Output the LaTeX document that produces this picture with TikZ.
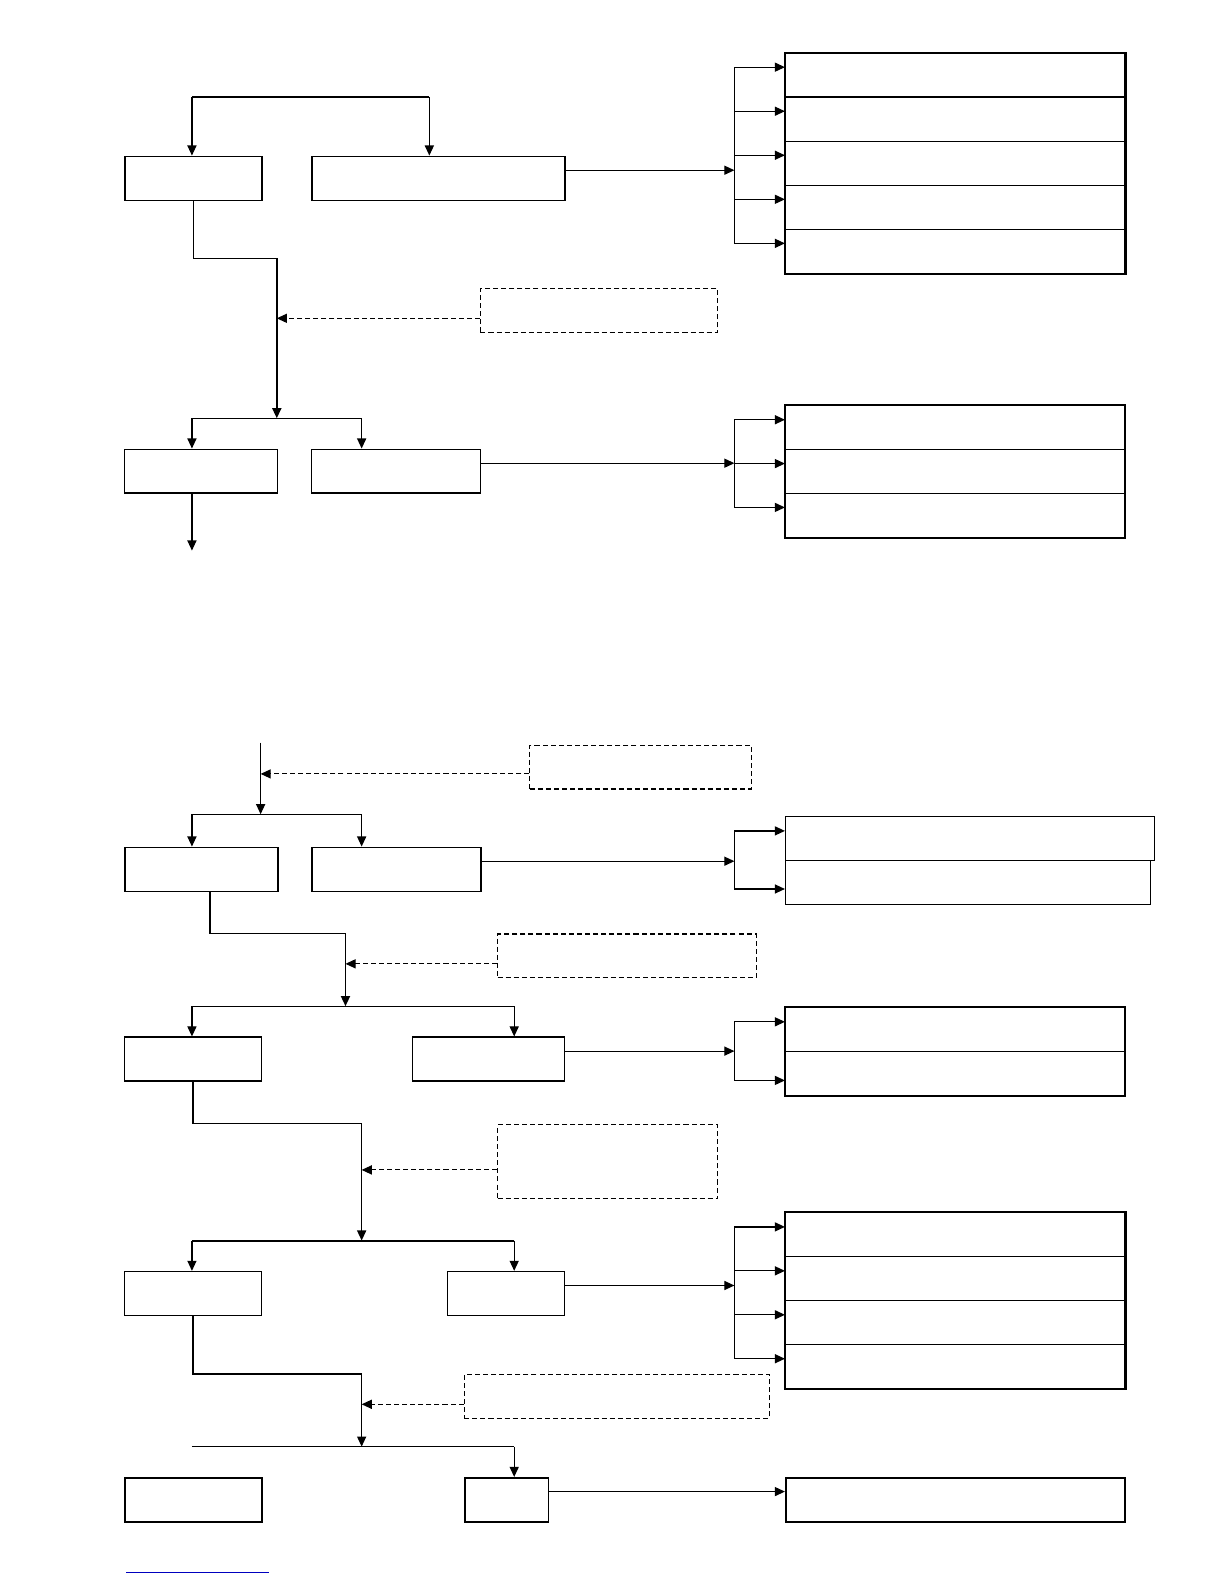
\documentclass[tikz,border=0pt]{standalone}
\usetikzlibrary{arrows.meta,calc}
\begin{document}
\begin{tikzpicture}[x=1pt, y=-1pt]
        \tikzstyle{unit}=[draw, rectangle, anchor=north west, inner sep=0pt, minimum height=43.5pt, line width=1.9pt];
        \tikzstyle{slim}=[unit, line width=1.2pt];
        \tikzstyle{cell}=[draw, rectangle, anchor=north west, inner sep=0pt, minimum height=43.5pt, minimum width=336pt, line width=1.2pt];
        \tikzstyle{note}=[draw, rectangle, anchor=north west, inner sep=0pt, minimum height=43.5pt, line width=1.1pt, dash pattern=on 5pt off 3pt];
        \tikzstyle{link}=[line width=1.2pt];
        \tikzstyle{arr}=[link, -{Triangle[length=10pt, width=9pt]}];
        \tikzstyle{darr}=[arr, line width=1.1pt, dash pattern=on 5pt off 3pt];

        \useasboundingbox (0,0) rectangle (1212,1568);

        % upper part
        \node[unit, minimum width=135pt] (a1) at (123,154) {};
        \node[unit, minimum width=250pt] (b1) at (308,154) {};
        \coordinate (t1l) at (190,96);
        \coordinate (t1r) at (425,96);
        \draw[link] (t1l) -- (t1r);
        \draw[arr] (t1l) -- (t1l |- a1.north);
        \draw[arr] (t1r) -- (t1r |- b1.north);

        \foreach \i in {1,...,5}
            \node[cell] (s1r\i) at (777, {52+43.6*(\i-1)}) {};
        \draw[line width=1.9pt] (s1r1.north west) rectangle (s1r5.south east);
        \coordinate (bus1) at (727,0);
        \coordinate (o1) at ($(b1.north east)+(0,14.5)$);
        \draw[arr] (o1) -- (o1 -| bus1);
        \foreach \i in {1,...,5}
            \coordinate (p1r\i) at ($(s1r\i.north west)+(0,14.5)$);
        \draw[link] (p1r1 -| bus1) -- (p1r5 -| bus1);
        \foreach \i in {1,...,5}
            \draw[arr] (p1r\i -| bus1) -- (p1r\i);

        \coordinate (k1) at (274,256);
        \coordinate (m1) at (274,414);
        \draw[arr, line width=1.5pt] (a1.south) |- (k1) -- (m1);
        \node[note, minimum width=235pt] (d1) at (475,285) {};
        \coordinate (q1) at ($(d1.south west)+(0,-14.5)$);
        \draw[darr] (q1) -- (q1 -| k1);

        \coordinate (j2l) at (190,414);
        \coordinate (j2r) at (358,414);
        \draw[link] (j2l) -- (j2r);
        \node[slim, minimum width=151pt] (a2) at (123,444) {};
        \node[slim, minimum width=167pt] (b2) at (308,444) {};
        \draw[arr] (j2l) -- (j2l |- a2.north);
        \draw[arr] (j2r) -- (j2r |- b2.north);

        \foreach \i in {1,...,3}
            \node[cell] (s2r\i) at (777, {401+43.4*(\i-1)}) {};
        \draw[line width=1.6pt] (s2r1.north west) rectangle (s2r3.south east);
        \coordinate (bus2) at (727,0);
        \coordinate (o2) at ($(b2.north east)+(0,14.5)$);
        \draw[arr] (o2) -- (o2 -| bus2);
        \foreach \i in {1,...,3}
            \coordinate (p2r\i) at ($(s2r\i.north west)+(0,14.5)$);
        \draw[link] (p2r1 -| bus2) -- (p2r3 -| bus2);
        \foreach \i in {1,...,3}
            \draw[arr] (p2r\i -| bus2) -- (p2r\i);

        \coordinate (e2) at (190,545);
        \draw[arr] (a2.south -| e2) -- (e2);

        % lower part
        \coordinate (s3) at (258,735);
        \coordinate (j3) at (258,806);
        \draw[arr] (s3) -- (j3);
        \node[note, minimum width=219pt] (d2) at (524,737) {};
        \coordinate (q2) at ($(d2.south west)+(0,-15.5)$);
        \draw[darr] (q2) -- (q2 -| j3);

        \coordinate (j3l) at (190,806);
        \coordinate (j3r) at (358,806);
        \draw[link] (j3l) -- (j3r);
        \node[unit, minimum width=151pt] (a3) at (123,838) {};
        \node[unit, minimum width=167pt] (b3) at (308,838) {};
        \draw[arr] (j3l) -- (j3l |- a3.north);
        \draw[arr] (j3r) -- (j3r |- b3.north);

        \node[cell, minimum width=365pt] (s3r1) at (777,808) {};
        \node[cell, minimum width=361pt] (s3r2) at (777,851) {};
        \coordinate (bus3) at (727,0);
        \coordinate (o3) at ($(b3.north east)+(0,14.5)$);
        \draw[arr] (o3) -- (o3 -| bus3);
        \coordinate (p3r1) at ($(s3r1.north west)+(0,14.5)$);
        \coordinate (p3r2) at ($(s3r2.north west)+(0,29)$);
        \draw[link] (p3r1 -| bus3) -- (p3r2 -| bus3);
        \foreach \i in {1,2}
            \draw[arr] (p3r\i -| bus3) -- (p3r\i);

        \coordinate (k3) at (342,924);
        \coordinate (m3) at (342,996);
        \draw[arr, line width=1.5pt] ([xshift=8.5pt]a3.south) |- (k3) -- (m3);
        \node[note, minimum width=256pt] (d3) at (492,924) {};
        \coordinate (q3) at ($(d3.south west)+(0,-14.5)$);
        \draw[darr] (q3) -- (q3 -| k3);

        \coordinate (j4l) at (190,996);
        \coordinate (j4r) at (509,996);
        \draw[link] (j4l) -- (j4r);
        \node[slim, minimum width=135pt] (a4) at (123,1026) {};
        \node[slim, minimum width=150pt] (b4) at (408,1026) {};
        \draw[arr] (j4l) -- (j4l |- a4.north);
        \draw[arr] (j4r) -- (j4r |- b4.north);

        \foreach \i in {1,2}
            \node[cell] (s4r\i) at (777, {997+43.5*(\i-1)}) {};
        \draw[line width=1.6pt] (s4r1.north west) rectangle (s4r2.south east);
        \coordinate (bus4) at (727,0);
        \coordinate (o4) at ($(b4.north east)+(0,14.5)$);
        \draw[arr] (o4) -- (o4 -| bus4);
        \coordinate (p4r1) at ($(s4r1.north west)+(0,14.5)$);
        \coordinate (p4r2) at ($(s4r2.north west)+(0,29)$);
        \draw[link] (p4r1 -| bus4) -- (p4r2 -| bus4);
        \foreach \i in {1,2}
            \draw[arr] (p4r\i -| bus4) -- (p4r\i);

        \coordinate (k4) at (358,1112);
        \coordinate (m4) at (358,1228);
        \draw[arr] (a4.south) |- (k4) -- (m4);
        \node[note, minimum width=218pt, minimum height=73pt] (d4) at (492,1113) {};
        \coordinate (q4) at ($(d4.south west)+(0,-29)$);
        \draw[darr] (q4) -- (q4 -| k4);

        \coordinate (j5l) at (190,1228);
        \coordinate (j5r) at (509,1228);
        \draw[link, line width=1.9pt] (j5l) -- (j5r);
        \node[slim, minimum width=135pt] (a5) at (123,1258) {};
        \node[slim, minimum width=116pt] (b5) at (442,1258) {};
        \draw[arr] (j5l) -- (j5l |- a5.north);
        \draw[arr] (j5r) -- (j5r |- b5.north);

        \foreach \i in {1,...,4}
            \node[cell] (s5r\i) at (777, {1200+43.5*(\i-1)}) {};
        \draw[line width=1.9pt] (s5r1.north west) rectangle (s5r4.south east);
        \coordinate (bus5) at (727,0);
        \coordinate (o5) at ($(b5.north east)+(0,14.5)$);
        \draw[arr] (o5) -- (o5 -| bus5);
        \foreach \i in {1,...,4}
            \coordinate (p5r\i) at ($(s5r\i.north west)+(0,14.5)$);
        \draw[link] (p5r1 -| bus5) -- (p5r4 -| bus5);
        \foreach \i in {1,...,4}
            \draw[arr] (p5r\i -| bus5) -- (p5r\i);

        \coordinate (k5) at (358,1360);
        \coordinate (m5) at (358,1432);
        \draw[arr] (a5.south) |- (k5) -- (m5);
        \node[note, minimum width=302pt] (d5) at (459,1360) {};
        \coordinate (q5) at ($(d5.south west)+(0,-14.5)$);
        \draw[darr] (q5) -- (q5 -| k5);

        \coordinate (j6l) at (190,1432);
        \coordinate (j6r) at (509,1432);
        \draw[link] (j6l) -- (j6r);
        \node[unit, minimum width=135pt] (a6) at (123,1462) {};
        \node[unit, minimum width=83pt] (b6) at (459,1462) {};
        \node[unit, minimum width=336pt] (c6) at (777,1462) {};
        \draw[arr] (j6r) -- (j6r |- b6.north);
        \coordinate (o6) at ($(b6.north east)+(0,14.5)$);
        \draw[arr] (o6) -- (o6 -| c6.west);

        \draw[blue!75!black, line width=1pt] (125,1557) -- (266,1557);
    \end{tikzpicture}
\end{document}
